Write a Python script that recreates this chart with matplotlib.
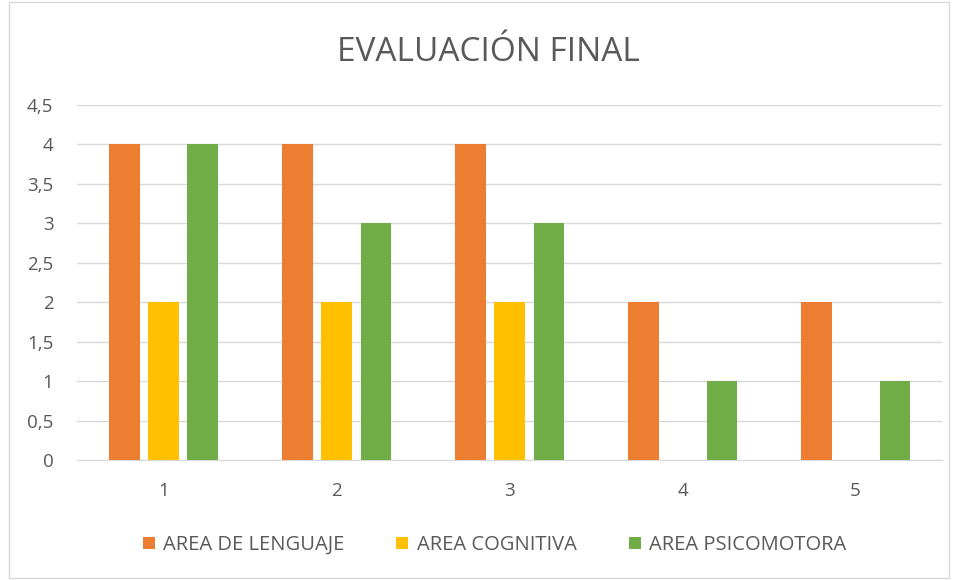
import numpy as np
import matplotlib
matplotlib.use("Agg")
import matplotlib.pyplot as plt
from matplotlib.patches import Rectangle
from matplotlib.ticker import FuncFormatter

categories = ["1", "2", "3", "4", "5"]
lenguaje = [4, 4, 4, 2, 2]
cognitiva = [2, 2, 2, 0, 0]
psicomotora = [4, 3, 3, 1, 1]
series_names = ["AREA DE LENGUAJE", "AREA COGNITIVA", "AREA PSICOMOTORA"]
colors = ["#ED7D31", "#FFC000", "#70AD47"]

plt.rcParams["font.family"] = ["Open Sans", "DejaVu Sans"]
text_color = "#595959"


def main():
    fig = plt.figure(figsize=(9.58, 5.8), dpi=100)
    ax = fig.add_axes([0.0804, 0.2069, 0.903, 0.612])

    x = np.arange(len(categories))
    offset = 0.226
    width = 0.175
    for i, (vals, name, c) in enumerate(zip([lenguaje, cognitiva, psicomotora], series_names, colors)):
        ax.bar(x + (i - 1) * offset, vals, width, color=c, label=name, zorder=3)

    ax.set_xlim(-0.5, len(categories) - 0.5)
    ax.set_ylim(0, 4.5)
    ax.set_yticks(np.arange(0, 4.51, 0.5))
    ax.yaxis.set_major_formatter(FuncFormatter(lambda v, p: f"{v:g}".replace(".", ",")))
    ax.set_xticks(x)
    ax.set_xticklabels(categories)
    ax.grid(axis="y", color="#D9D9D9", linewidth=1, zorder=0)
    for s in ["top", "right", "left"]:
        ax.spines[s].set_visible(False)
    ax.spines["bottom"].set_color("#D9D9D9")
    ax.tick_params(axis="both", length=0, colors=text_color, labelsize=13.5)
    ax.tick_params(axis="x", pad=16)
    ax.tick_params(axis="y", pad=17)

    fig.text(0.51, 0.91, "EVALUACIÓN FINAL", ha="center", va="center", fontsize=24, color=text_color)

    ax.legend(loc="center", bbox_to_anchor=(0.516, 0.06), bbox_transform=fig.transFigure,
              ncol=3, frameon=False, fontsize=14.5, labelcolor=text_color,
              handlelength=0.6, handleheight=0.6, handletextpad=0.4, columnspacing=2.6)

    fig.patches.append(Rectangle((0.009, 0.003), 0.982, 0.994, transform=fig.transFigure,
                                 fill=False, edgecolor="#D9D9D9", linewidth=1))

    fig.savefig("out.png", dpi=100)


if __name__ == "__main__":
    main()
